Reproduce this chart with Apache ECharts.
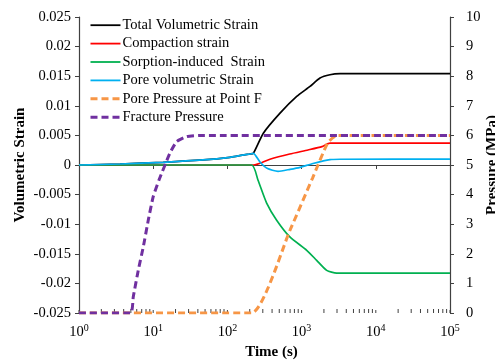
<!DOCTYPE html>
<html><head><meta charset="utf-8">
<script src="https://cdn.jsdelivr.net/npm/echarts@6/dist/echarts.min.js"></script>
<style>html,body{margin:0;padding:0;background:#fff}#c{width:495px;height:362px}</style>
</head><body><div id="c"></div>
<script>
// ---- data (time in seconds) ----
const tTotal = [1, 3.57, 13.6, 47, 108, 201, 224, 305, 512, 859, 1298, 1770, 2410, 3300, 100000];
const total  = [0, 0.00017, 0.00046, 0.00085, 0.0013, 0.00186, 0.00198, 0.00537, 0.00876, 0.01158, 0.01327, 0.0147, 0.01525, 0.01542, 0.01542];

const tComp = [1, 224, 374, 692, 1220, 1880, 2410, 100000];
const comp  = [0, 0, 0.00097, 0.00186, 0.00254, 0.0031, 0.00368, 0.00368];

const tSorp = [1, 212, 258, 338, 461, 695, 1172, 1596, 2180, 2970, 100000];
const sorp  = [0, 0, -0.00254, -0.00644, -0.00932, -0.01215, -0.01441, -0.0161, -0.0178, -0.01825, -0.01825];

const tPore = [1, 3.57, 13.6, 47, 108, 201, 224, 275, 342, 481, 698, 951, 1425, 2410, 3296, 100000];
const pore  = [0, 0.00017, 0.00046, 0.00085, 0.0013, 0.00186, 0.00198, 0.0005, -0.00056, -0.00107, -0.00073, -0.00039, 0.00025, 0.0009, 0.00097, 0.001];

const tPP = [1, 212, 698, 1400, 2250, 3000, 100000];
const ppF = [0, 0, 2.8, 4.55, 5.75, 6, 6];

const tFP = [1, 4.97, 5.39, 6.30, 7.36, 8.59, 10.0, 12.0, 16.8, 20.7, 28.3, 42.7, 100000];
const fracP = [0, 0, 0.55, 1.45, 2.24, 3.14, 3.93, 4.5, 5.40, 5.79, 5.96, 6, 6];

const names = ['Total Volumetric Strain', 'Compaction strain', 'Sorption-induced  Strain',
               'Pore volumetric Strain', 'Pore Pressure at Point F', 'Fracture Pressure'];
const colors = ['#000000', '#ff0000', '#00b050', '#00b0f0', '#f79646', '#7030a0'];
const decades = [0, 1, 2, 3, 4, 5];

const zip = (a, b) => a.map((x, i) => [x, b[i]]);
const minorTicks = [];
decades.slice(0, -1).forEach(d => { for (let k = 2; k <= 9; k++) minorTicks.push([k * Math.pow(10, d), 4]); });
decades.forEach(d => minorTicks.push([Math.pow(10, d), 3]));

const FONT = 'Liberation Serif';
const axisCol = '#404040';
const DASH = [7, 4];

const solid = (i, t, v) => ({
  name: names[i], type: 'line', data: zip(t, v), symbol: 'none',
  lineStyle: { color: colors[i], width: 1.7 }, itemStyle: { color: colors[i] },
  smooth: 0.2, z: 3 + i
});
const dashed = (i, t, v) => ({
  name: names[i], type: 'line', yAxisIndex: 1, data: zip(t, v), symbol: 'none',
  lineStyle: { color: colors[i], width: 3, type: DASH }, itemStyle: { color: colors[i] },
  smooth: 0.15, z: 3 + i
});

const chart = echarts.init(document.getElementById('c'));
chart.setOption({
  animation: false,
  textStyle: { fontFamily: FONT },
  grid: { left: 79, right: 45, top: 17, bottom: 49, containLabel: false, outerBoundsMode: 'none' },
  legend: {
    data: names.map((n, i) => ({
      name: n,
      itemStyle: { color: 'rgba(0,0,0,0)', borderWidth: 0, opacity: 0 },
      lineStyle: i >= 4 ? { color: colors[i], width: 3, type: DASH } : { color: colors[i], width: 1.8, type: 'solid' }
    })),
    orient: 'vertical', left: 84, top: 11, itemWidth: 30, itemHeight: 10, itemGap: 0,
    selectedMode: false,
    textStyle: { fontFamily: FONT, fontSize: 14.5, color: '#000', lineHeight: 18.4, padding: [0, 0, 0, -3] }
  },
  xAxis: {
    type: 'log', logBase: 10, min: 1, max: 100000,
    name: 'Time (s)', nameLocation: 'middle', nameGap: 32, nameMoveOverlap: false,
    nameTextStyle: { fontFamily: FONT, fontSize: 15, fontWeight: 'bold', color: '#000', padding: [0, 0, 0, 14] },
    axisLine: { lineStyle: { color: axisCol, width: 1.2 } },
    axisTick: { show: true, length: 4, lineStyle: { color: axisCol } },
    splitLine: { show: false },
    axisLabel: {
      margin: 10, color: '#000',
      formatter: v => '{a|10}{b|' + Math.round(Math.log10(v)) + '}',
      rich: { a: { fontFamily: FONT, fontSize: 14.5, color: '#000' },
              b: { fontFamily: FONT, fontSize: 10, color: '#000', padding: [0, 0, 9, 0] } }
    }
  },
  yAxis: [{
    type: 'value', min: -0.025, max: 0.025, interval: 0.005,
    name: 'Volumetric Strain', nameLocation: 'middle', nameGap: 51, nameRotate: 90, nameMoveOverlap: false,
    nameTextStyle: { fontFamily: FONT, fontSize: 15, fontWeight: 'bold', color: '#000' },
    axisLine: { show: true, lineStyle: { color: axisCol, width: 1.2 } },
    axisTick: { show: true, length: 4, lineStyle: { color: axisCol } },
    splitLine: { show: false },
    axisLabel: { margin: 8, color: '#000', fontFamily: FONT, fontSize: 14.5,
      formatter: v => String(parseFloat(v.toFixed(3))) }
  }, {
    type: 'value', min: 0, max: 10, interval: 1, position: 'right',
    name: 'Pressure (MPa)', nameLocation: 'middle', nameGap: 35, nameRotate: 90, nameMoveOverlap: false,
    nameTextStyle: { fontFamily: FONT, fontSize: 15, fontWeight: 'bold', color: '#000' },
    axisLine: { show: true, lineStyle: { color: axisCol, width: 1.2 } },
    axisTick: { show: true, length: 4, lineStyle: { color: axisCol } },
    splitLine: { show: false },
    axisLabel: { margin: 16, color: '#000', fontFamily: FONT, fontSize: 14.5 }
  }],
  series: [
    solid(0, tTotal, total),
    solid(1, tComp, comp),
    solid(2, tSorp, sorp),
    solid(3, tPore, pore),
    dashed(4, tPP, ppF),
    dashed(5, tFP, fracP),
    {
      type: 'custom', name: 'ticks', data: minorTicks, silent: true, z: 2,
      renderItem: (params, api) => {
        const p = api.coord([api.value(0), -0.025]);
        return { type: 'line', shape: { x1: p[0], y1: p[1], x2: p[0], y2: p[1] - api.value(1) },
                 style: { stroke: axisCol, lineWidth: 1 } };
      }
    }
  ]
});
</script></body></html>
